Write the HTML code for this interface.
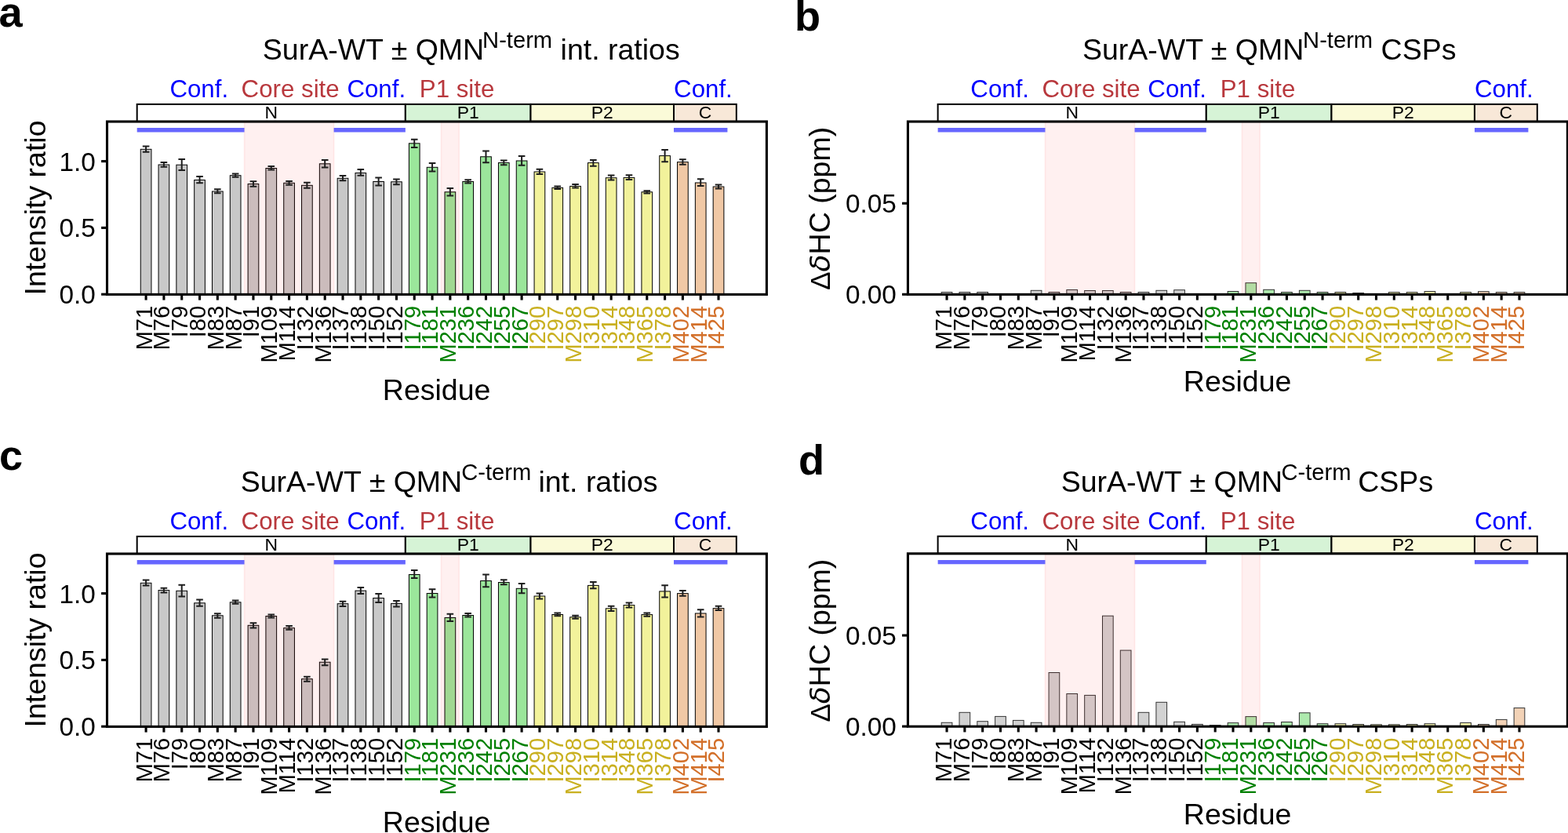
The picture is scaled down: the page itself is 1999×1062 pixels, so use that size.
<!DOCTYPE html>
<html><head><meta charset="utf-8"><title>SurA-WT QMN intensity ratios and CSPs</title>
<style>html,body{margin:0;padding:0;background:#fff;overflow:hidden}svg{display:block}
text{font-family:"Liberation Sans", Arial, Helvetica, sans-serif}</style></head>
<body><svg width="1999" height="1062" viewBox="0 0 1999 1062">
<rect width="1999" height="1062" fill="#fff"/>
<g stroke="#000" stroke-width="1">
<rect x="179.25" y="190.3" width="13.7" height="184.9" fill="#c8c8c8"/>
<rect x="202.06" y="210" width="13.7" height="165.2" fill="#c8c8c8"/>
<rect x="224.87" y="210.2" width="13.7" height="165" fill="#c8c8c8"/>
<rect x="247.68" y="229.5" width="13.7" height="145.7" fill="#c8c8c8"/>
<rect x="270.49" y="244" width="13.7" height="131.2" fill="#c8c8c8"/>
<rect x="293.3" y="223.7" width="13.7" height="151.5" fill="#c8c8c8"/>
<rect x="316.11" y="234.5" width="13.7" height="140.7" fill="#c8c8c8"/>
<rect x="338.92" y="214.5" width="13.7" height="160.7" fill="#c8c8c8"/>
<rect x="361.73" y="233.3" width="13.7" height="141.9" fill="#c8c8c8"/>
<rect x="384.54" y="236.3" width="13.7" height="138.9" fill="#c8c8c8"/>
<rect x="407.35" y="208.8" width="13.7" height="166.4" fill="#c8c8c8"/>
<rect x="430.16" y="227.3" width="13.7" height="147.9" fill="#c8c8c8"/>
<rect x="452.97" y="220.5" width="13.7" height="154.7" fill="#c8c8c8"/>
<rect x="475.78" y="231.5" width="13.7" height="143.7" fill="#c8c8c8"/>
<rect x="498.59" y="231.8" width="13.7" height="143.4" fill="#c8c8c8"/>
<rect x="521.4" y="182.8" width="13.7" height="192.4" fill="#9be69b"/>
<rect x="544.21" y="213.3" width="13.7" height="161.9" fill="#9be69b"/>
<rect x="567.02" y="244.8" width="13.7" height="130.4" fill="#9be69b"/>
<rect x="589.83" y="231.5" width="13.7" height="143.7" fill="#9be69b"/>
<rect x="612.64" y="199.8" width="13.7" height="175.4" fill="#9be69b"/>
<rect x="635.45" y="207.5" width="13.7" height="167.7" fill="#9be69b"/>
<rect x="658.26" y="205" width="13.7" height="170.2" fill="#9be69b"/>
<rect x="681.07" y="219" width="13.7" height="156.2" fill="#f2f29b"/>
<rect x="703.88" y="239.3" width="13.7" height="135.9" fill="#f2f29b"/>
<rect x="726.69" y="237.4" width="13.7" height="137.8" fill="#f2f29b"/>
<rect x="749.5" y="207.6" width="13.7" height="167.6" fill="#f2f29b"/>
<rect x="772.31" y="226.7" width="13.7" height="148.5" fill="#f2f29b"/>
<rect x="795.12" y="226.5" width="13.7" height="148.7" fill="#f2f29b"/>
<rect x="817.93" y="244.8" width="13.7" height="130.4" fill="#f2f29b"/>
<rect x="840.74" y="198.6" width="13.7" height="176.6" fill="#f2f29b"/>
<rect x="863.55" y="206.6" width="13.7" height="168.6" fill="#f0c8a5"/>
<rect x="886.36" y="233" width="13.7" height="142.2" fill="#f0c8a5"/>
<rect x="909.17" y="238" width="13.7" height="137.2" fill="#f0c8a5"/>
</g>
<g fill="#ff0000" fill-opacity="0.06">
<rect x="311.56" y="155" width="114.05" height="220.4"/>
<rect x="562.46" y="155" width="22.81" height="220.4"/>
</g>
<g stroke="#ff0000" stroke-opacity="0.07" stroke-width="1.6">
<line x1="311.56" y1="155" x2="311.56" y2="375.4"/>
<line x1="425.61" y1="155" x2="425.61" y2="375.4"/>
<line x1="562.46" y1="155" x2="562.46" y2="375.4"/>
<line x1="585.27" y1="155" x2="585.27" y2="375.4"/>
</g>
<g stroke="#6666ff" stroke-width="5.4">
<line x1="174.69" y1="165.8" x2="311.56" y2="165.8"/>
<line x1="425.61" y1="165.8" x2="516.85" y2="165.8"/>
<line x1="859" y1="165.8" x2="927.42" y2="165.8"/>
</g>
<g stroke="#1e1e1e" stroke-width="2" fill="none">
<path d="M186.1 186.5V193.7M181.8 186.5H190.4M181.8 193.7H190.4"/>
<path d="M208.91 207V212.8M204.61 207H213.21M204.61 212.8H213.21"/>
<path d="M231.72 202.9V217.1M227.42 202.9H236.02M227.42 217.1H236.02"/>
<path d="M254.53 225V233.2M250.23 225H258.83M250.23 233.2H258.83"/>
<path d="M277.34 241.2V246.2M273.04 241.2H281.64M273.04 246.2H281.64"/>
<path d="M300.15 221.5V225.7M295.85 221.5H304.45M295.85 225.7H304.45"/>
<path d="M322.96 231.2V237.8M318.66 231.2H327.26M318.66 237.8H327.26"/>
<path d="M345.77 212V216.5M341.47 212H350.07M341.47 216.5H350.07"/>
<path d="M368.58 231V235.8M364.28 231H372.88M364.28 235.8H372.88"/>
<path d="M391.39 232.8V239.8M387.09 232.8H395.69M387.09 239.8H395.69"/>
<path d="M414.2 204V213.5M409.9 204H418.5M409.9 213.5H418.5"/>
<path d="M437.01 224V230.3M432.71 224H441.31M432.71 230.3H441.31"/>
<path d="M459.82 216V223.8M455.52 216H464.12M455.52 223.8H464.12"/>
<path d="M482.63 226.5V236.5M478.33 226.5H486.93M478.33 236.5H486.93"/>
<path d="M505.44 228.5V235.2M501.14 228.5H509.74M501.14 235.2H509.74"/>
<path d="M528.25 177.8V188M523.95 177.8H532.55M523.95 188H532.55"/>
<path d="M551.06 208V218.5M546.76 208H555.36M546.76 218.5H555.36"/>
<path d="M573.87 240V249.5M569.57 240H578.17M569.57 249.5H578.17"/>
<path d="M596.68 229.2V233.5M592.38 229.2H600.98M592.38 233.5H600.98"/>
<path d="M619.49 192.5V207.2M615.19 192.5H623.79M615.19 207.2H623.79"/>
<path d="M642.3 204.5V210.2M638 204.5H646.6M638 210.2H646.6"/>
<path d="M665.11 199V210.8M660.81 199H669.41M660.81 210.8H669.41"/>
<path d="M687.92 215.8V222M683.62 215.8H692.22M683.62 222H692.22"/>
<path d="M710.73 237.5V241M706.43 237.5H715.03M706.43 241H715.03"/>
<path d="M733.54 234.9V239.6M729.24 234.9H737.84M729.24 239.6H737.84"/>
<path d="M756.35 203.9V211.8M752.05 203.9H760.65M752.05 211.8H760.65"/>
<path d="M779.16 223.6V229.4M774.86 223.6H783.46M774.86 229.4H783.46"/>
<path d="M801.97 223.2V228.9M797.67 223.2H806.27M797.67 228.9H806.27"/>
<path d="M824.78 243.2V246.5M820.48 243.2H829.08M820.48 246.5H829.08"/>
<path d="M847.59 190.9V206.3M843.29 190.9H851.89M843.29 206.3H851.89"/>
<path d="M870.4 203.3V209.8M866.1 203.3H874.7M866.1 209.8H874.7"/>
<path d="M893.21 228.3V237.1M888.91 228.3H897.51M888.91 237.1H897.51"/>
<path d="M916.02 235.5V240.4M911.72 235.5H920.32M911.72 240.4H920.32"/>
</g>
<g stroke="#000" stroke-width="2">
<rect x="174.69" y="132.9" width="342.15" height="22.1" fill="#ffffff"/>
<rect x="516.85" y="132.9" width="159.67" height="22.1" fill="#d6f3d6"/>
<rect x="676.51" y="132.9" width="182.48" height="22.1" fill="#fafad8"/>
<rect x="859" y="132.9" width="79.83" height="22.1" fill="#f8e8d8"/>
</g>
<g font-size="22.9" text-anchor="middle">
<text x="345.77" y="151">N</text>
<text x="596.68" y="151">P1</text>
<text x="767.75" y="151">P2</text>
<text x="898.91" y="151">C</text>
</g>
<g font-size="31.25">
<text x="216.4" y="124" fill="#0000ff">Conf.</text>
<text x="307.6" y="124" fill="#b8383d">Core site</text>
<text x="442.4" y="124" fill="#0000ff">Conf.</text>
<text x="534.8" y="124" fill="#b8383d">P1 site</text>
<text x="859.1" y="124" fill="#0000ff">Conf.</text>
</g>
<rect x="136.5" y="155" width="840.9" height="220.4" fill="none" stroke="#000" stroke-width="3.1"/>
<g stroke="#000" stroke-width="3.1">
<line x1="186.1" y1="375.4" x2="186.1" y2="382.6"/>
<line x1="208.91" y1="375.4" x2="208.91" y2="382.6"/>
<line x1="231.72" y1="375.4" x2="231.72" y2="382.6"/>
<line x1="254.53" y1="375.4" x2="254.53" y2="382.6"/>
<line x1="277.34" y1="375.4" x2="277.34" y2="382.6"/>
<line x1="300.15" y1="375.4" x2="300.15" y2="382.6"/>
<line x1="322.96" y1="375.4" x2="322.96" y2="382.6"/>
<line x1="345.77" y1="375.4" x2="345.77" y2="382.6"/>
<line x1="368.58" y1="375.4" x2="368.58" y2="382.6"/>
<line x1="391.39" y1="375.4" x2="391.39" y2="382.6"/>
<line x1="414.2" y1="375.4" x2="414.2" y2="382.6"/>
<line x1="437.01" y1="375.4" x2="437.01" y2="382.6"/>
<line x1="459.82" y1="375.4" x2="459.82" y2="382.6"/>
<line x1="482.63" y1="375.4" x2="482.63" y2="382.6"/>
<line x1="505.44" y1="375.4" x2="505.44" y2="382.6"/>
<line x1="528.25" y1="375.4" x2="528.25" y2="382.6"/>
<line x1="551.06" y1="375.4" x2="551.06" y2="382.6"/>
<line x1="573.87" y1="375.4" x2="573.87" y2="382.6"/>
<line x1="596.68" y1="375.4" x2="596.68" y2="382.6"/>
<line x1="619.49" y1="375.4" x2="619.49" y2="382.6"/>
<line x1="642.3" y1="375.4" x2="642.3" y2="382.6"/>
<line x1="665.11" y1="375.4" x2="665.11" y2="382.6"/>
<line x1="687.92" y1="375.4" x2="687.92" y2="382.6"/>
<line x1="710.73" y1="375.4" x2="710.73" y2="382.6"/>
<line x1="733.54" y1="375.4" x2="733.54" y2="382.6"/>
<line x1="756.35" y1="375.4" x2="756.35" y2="382.6"/>
<line x1="779.16" y1="375.4" x2="779.16" y2="382.6"/>
<line x1="801.97" y1="375.4" x2="801.97" y2="382.6"/>
<line x1="824.78" y1="375.4" x2="824.78" y2="382.6"/>
<line x1="847.59" y1="375.4" x2="847.59" y2="382.6"/>
<line x1="870.4" y1="375.4" x2="870.4" y2="382.6"/>
<line x1="893.21" y1="375.4" x2="893.21" y2="382.6"/>
<line x1="916.02" y1="375.4" x2="916.02" y2="382.6"/>
<line x1="129.1" y1="205.6" x2="136.5" y2="205.6"/>
<line x1="129.1" y1="290.4" x2="136.5" y2="290.4"/>
<line x1="129.1" y1="375.2" x2="136.5" y2="375.2"/>
</g>
<g font-size="33.33" text-anchor="end">
<text x="121.9" y="217.5">1.0</text>
<text x="121.9" y="302.3">0.5</text>
<text x="121.9" y="387.1">0.0</text>
</g>
<g font-size="29.17" text-anchor="end">
<text transform="translate(193.5 389.8) rotate(-90)" fill="#000000">M71</text>
<text transform="translate(216.31 389.8) rotate(-90)" fill="#000000">M76</text>
<text transform="translate(239.12 389.8) rotate(-90)" fill="#000000">I79</text>
<text transform="translate(261.93 389.8) rotate(-90)" fill="#000000">I80</text>
<text transform="translate(284.74 389.8) rotate(-90)" fill="#000000">M83</text>
<text transform="translate(307.55 389.8) rotate(-90)" fill="#000000">M87</text>
<text transform="translate(330.36 389.8) rotate(-90)" fill="#000000">I91</text>
<text transform="translate(353.17 389.8) rotate(-90)" fill="#000000">M109</text>
<text transform="translate(375.98 389.8) rotate(-90)" fill="#000000">M114</text>
<text transform="translate(398.79 389.8) rotate(-90)" fill="#000000">I132</text>
<text transform="translate(421.6 389.8) rotate(-90)" fill="#000000">M136</text>
<text transform="translate(444.41 389.8) rotate(-90)" fill="#000000">I137</text>
<text transform="translate(467.22 389.8) rotate(-90)" fill="#000000">I138</text>
<text transform="translate(490.03 389.8) rotate(-90)" fill="#000000">I150</text>
<text transform="translate(512.84 389.8) rotate(-90)" fill="#000000">I152</text>
<text transform="translate(535.65 389.8) rotate(-90)" fill="#008000">I179</text>
<text transform="translate(558.46 389.8) rotate(-90)" fill="#008000">I181</text>
<text transform="translate(581.27 389.8) rotate(-90)" fill="#008000">M231</text>
<text transform="translate(604.08 389.8) rotate(-90)" fill="#008000">I236</text>
<text transform="translate(626.89 389.8) rotate(-90)" fill="#008000">I242</text>
<text transform="translate(649.7 389.8) rotate(-90)" fill="#008000">I255</text>
<text transform="translate(672.51 389.8) rotate(-90)" fill="#008000">I267</text>
<text transform="translate(695.32 389.8) rotate(-90)" fill="#c9b020">I290</text>
<text transform="translate(718.13 389.8) rotate(-90)" fill="#c9b020">I297</text>
<text transform="translate(740.94 389.8) rotate(-90)" fill="#c9b020">M298</text>
<text transform="translate(763.75 389.8) rotate(-90)" fill="#c9b020">I310</text>
<text transform="translate(786.56 389.8) rotate(-90)" fill="#c9b020">I314</text>
<text transform="translate(809.37 389.8) rotate(-90)" fill="#c9b020">I348</text>
<text transform="translate(832.18 389.8) rotate(-90)" fill="#c9b020">M365</text>
<text transform="translate(854.99 389.8) rotate(-90)" fill="#c9b020">I378</text>
<text transform="translate(877.8 389.8) rotate(-90)" fill="#d3702a">M402</text>
<text transform="translate(900.61 389.8) rotate(-90)" fill="#d3702a">M414</text>
<text transform="translate(923.42 389.8) rotate(-90)" fill="#d3702a">I425</text>
</g>
<text transform="translate(58 265) rotate(-90)" font-size="37.5" text-anchor="middle">Intensity ratio</text>
<text x="556.65" y="509.8" font-size="37.5" text-anchor="middle">Residue</text>
<text y="75.8" font-size="37.5"><tspan x="334.8">SurA-WT &#177; QMN</tspan><tspan font-size="29.17" dx="-2.1" dy="-15">N-term</tspan><tspan dx="0" dy="15"> int. ratios</tspan></text>
<text x="-1.5" y="33.75" font-size="54.17" font-weight="bold">a</text>
<g stroke="#000" stroke-width="1" opacity="0.8">
<rect x="1200.2" y="372.5" width="13.7" height="2.8" fill="#c8c8c8"/>
<rect x="1223.01" y="372.5" width="13.7" height="2.8" fill="#c8c8c8"/>
<rect x="1245.82" y="372.5" width="13.7" height="2.8" fill="#c8c8c8"/>
<rect x="1314.25" y="370.3" width="13.7" height="5" fill="#c8c8c8"/>
<rect x="1337.06" y="372.5" width="13.7" height="2.8" fill="#c8c8c8"/>
<rect x="1359.87" y="369.5" width="13.7" height="5.8" fill="#c8c8c8"/>
<rect x="1382.68" y="370.5" width="13.7" height="4.8" fill="#c8c8c8"/>
<rect x="1405.49" y="370.5" width="13.7" height="4.8" fill="#c8c8c8"/>
<rect x="1428.3" y="372.5" width="13.7" height="2.8" fill="#c8c8c8"/>
<rect x="1451.11" y="372.5" width="13.7" height="2.8" fill="#c8c8c8"/>
<rect x="1473.92" y="370.3" width="13.7" height="5" fill="#c8c8c8"/>
<rect x="1496.73" y="369.7" width="13.7" height="5.6" fill="#c8c8c8"/>
<rect x="1565.16" y="371.5" width="13.7" height="3.8" fill="#9be69b"/>
<rect x="1587.97" y="360.7" width="13.7" height="14.6" fill="#9be69b"/>
<rect x="1610.78" y="369.3" width="13.7" height="6" fill="#9be69b"/>
<rect x="1633.59" y="372.5" width="13.7" height="2.8" fill="#9be69b"/>
<rect x="1656.4" y="370.3" width="13.7" height="5" fill="#9be69b"/>
<rect x="1679.21" y="372.5" width="13.7" height="2.8" fill="#9be69b"/>
<rect x="1702.02" y="372.5" width="13.7" height="2.8" fill="#f2f29b"/>
<rect x="1724.83" y="373.5" width="13.7" height="1.8" fill="#f2f29b"/>
<rect x="1770.45" y="372.6" width="13.7" height="2.7" fill="#f2f29b"/>
<rect x="1793.26" y="372.6" width="13.7" height="2.7" fill="#f2f29b"/>
<rect x="1816.07" y="371.5" width="13.7" height="3.8" fill="#f2f29b"/>
<rect x="1861.69" y="372.6" width="13.7" height="2.7" fill="#f2f29b"/>
<rect x="1884.5" y="371.7" width="13.7" height="3.6" fill="#f0c8a5"/>
<rect x="1907.31" y="372.6" width="13.7" height="2.7" fill="#f0c8a5"/>
<rect x="1930.12" y="372.6" width="13.7" height="2.7" fill="#f0c8a5"/>
</g>
<g fill="#ff0000" fill-opacity="0.06">
<rect x="1332.5" y="155" width="114.05" height="220.4"/>
<rect x="1583.41" y="155" width="22.81" height="220.4"/>
</g>
<g stroke="#ff0000" stroke-opacity="0.07" stroke-width="1.6">
<line x1="1332.5" y1="155" x2="1332.5" y2="375.4"/>
<line x1="1446.55" y1="155" x2="1446.55" y2="375.4"/>
<line x1="1583.41" y1="155" x2="1583.41" y2="375.4"/>
<line x1="1606.22" y1="155" x2="1606.22" y2="375.4"/>
</g>
<g stroke="#6666ff" stroke-width="5.4">
<line x1="1195.64" y1="165.8" x2="1332.5" y2="165.8"/>
<line x1="1446.55" y1="165.8" x2="1537.8" y2="165.8"/>
<line x1="1879.94" y1="165.8" x2="1948.38" y2="165.8"/>
</g>
<g stroke="#000" stroke-width="2">
<rect x="1195.64" y="132.9" width="342.15" height="22.1" fill="#ffffff"/>
<rect x="1537.8" y="132.9" width="159.67" height="22.1" fill="#d6f3d6"/>
<rect x="1697.46" y="132.9" width="182.48" height="22.1" fill="#fafad8"/>
<rect x="1879.94" y="132.9" width="79.83" height="22.1" fill="#f8e8d8"/>
</g>
<g font-size="22.9" text-anchor="middle">
<text x="1366.72" y="151">N</text>
<text x="1617.63" y="151">P1</text>
<text x="1788.7" y="151">P2</text>
<text x="1919.86" y="151">C</text>
</g>
<g font-size="31.25">
<text x="1237.35" y="124" fill="#0000ff">Conf.</text>
<text x="1328.55" y="124" fill="#b8383d">Core site</text>
<text x="1463.35" y="124" fill="#0000ff">Conf.</text>
<text x="1555.75" y="124" fill="#b8383d">P1 site</text>
<text x="1880.05" y="124" fill="#0000ff">Conf.</text>
</g>
<rect x="1157.45" y="155" width="840.9" height="220.4" fill="none" stroke="#000" stroke-width="3.1"/>
<g stroke="#000" stroke-width="3.1">
<line x1="1207.05" y1="375.4" x2="1207.05" y2="382.6"/>
<line x1="1229.86" y1="375.4" x2="1229.86" y2="382.6"/>
<line x1="1252.67" y1="375.4" x2="1252.67" y2="382.6"/>
<line x1="1275.48" y1="375.4" x2="1275.48" y2="382.6"/>
<line x1="1298.29" y1="375.4" x2="1298.29" y2="382.6"/>
<line x1="1321.1" y1="375.4" x2="1321.1" y2="382.6"/>
<line x1="1343.91" y1="375.4" x2="1343.91" y2="382.6"/>
<line x1="1366.72" y1="375.4" x2="1366.72" y2="382.6"/>
<line x1="1389.53" y1="375.4" x2="1389.53" y2="382.6"/>
<line x1="1412.34" y1="375.4" x2="1412.34" y2="382.6"/>
<line x1="1435.15" y1="375.4" x2="1435.15" y2="382.6"/>
<line x1="1457.96" y1="375.4" x2="1457.96" y2="382.6"/>
<line x1="1480.77" y1="375.4" x2="1480.77" y2="382.6"/>
<line x1="1503.58" y1="375.4" x2="1503.58" y2="382.6"/>
<line x1="1526.39" y1="375.4" x2="1526.39" y2="382.6"/>
<line x1="1549.2" y1="375.4" x2="1549.2" y2="382.6"/>
<line x1="1572.01" y1="375.4" x2="1572.01" y2="382.6"/>
<line x1="1594.82" y1="375.4" x2="1594.82" y2="382.6"/>
<line x1="1617.63" y1="375.4" x2="1617.63" y2="382.6"/>
<line x1="1640.44" y1="375.4" x2="1640.44" y2="382.6"/>
<line x1="1663.25" y1="375.4" x2="1663.25" y2="382.6"/>
<line x1="1686.06" y1="375.4" x2="1686.06" y2="382.6"/>
<line x1="1708.87" y1="375.4" x2="1708.87" y2="382.6"/>
<line x1="1731.68" y1="375.4" x2="1731.68" y2="382.6"/>
<line x1="1754.49" y1="375.4" x2="1754.49" y2="382.6"/>
<line x1="1777.3" y1="375.4" x2="1777.3" y2="382.6"/>
<line x1="1800.11" y1="375.4" x2="1800.11" y2="382.6"/>
<line x1="1822.92" y1="375.4" x2="1822.92" y2="382.6"/>
<line x1="1845.73" y1="375.4" x2="1845.73" y2="382.6"/>
<line x1="1868.54" y1="375.4" x2="1868.54" y2="382.6"/>
<line x1="1891.35" y1="375.4" x2="1891.35" y2="382.6"/>
<line x1="1914.16" y1="375.4" x2="1914.16" y2="382.6"/>
<line x1="1936.97" y1="375.4" x2="1936.97" y2="382.6"/>
<line x1="1150.05" y1="259.25" x2="1157.45" y2="259.25"/>
<line x1="1150.05" y1="375.3" x2="1157.45" y2="375.3"/>
</g>
<g font-size="33.33" text-anchor="end">
<text x="1142.85" y="271.15">0.05</text>
<text x="1142.85" y="387.2">0.00</text>
</g>
<g font-size="29.17" text-anchor="end">
<text transform="translate(1213.45 389.8) rotate(-90)" fill="#000000">M71</text>
<text transform="translate(1236.26 389.8) rotate(-90)" fill="#000000">M76</text>
<text transform="translate(1259.07 389.8) rotate(-90)" fill="#000000">I79</text>
<text transform="translate(1281.88 389.8) rotate(-90)" fill="#000000">I80</text>
<text transform="translate(1304.69 389.8) rotate(-90)" fill="#000000">M83</text>
<text transform="translate(1327.5 389.8) rotate(-90)" fill="#000000">M87</text>
<text transform="translate(1350.31 389.8) rotate(-90)" fill="#000000">I91</text>
<text transform="translate(1373.12 389.8) rotate(-90)" fill="#000000">M109</text>
<text transform="translate(1395.93 389.8) rotate(-90)" fill="#000000">M114</text>
<text transform="translate(1418.74 389.8) rotate(-90)" fill="#000000">I132</text>
<text transform="translate(1441.55 389.8) rotate(-90)" fill="#000000">M136</text>
<text transform="translate(1464.36 389.8) rotate(-90)" fill="#000000">I137</text>
<text transform="translate(1487.17 389.8) rotate(-90)" fill="#000000">I138</text>
<text transform="translate(1509.98 389.8) rotate(-90)" fill="#000000">I150</text>
<text transform="translate(1532.79 389.8) rotate(-90)" fill="#000000">I152</text>
<text transform="translate(1555.6 389.8) rotate(-90)" fill="#008000">I179</text>
<text transform="translate(1578.41 389.8) rotate(-90)" fill="#008000">I181</text>
<text transform="translate(1601.22 389.8) rotate(-90)" fill="#008000">M231</text>
<text transform="translate(1624.03 389.8) rotate(-90)" fill="#008000">I236</text>
<text transform="translate(1646.84 389.8) rotate(-90)" fill="#008000">I242</text>
<text transform="translate(1669.65 389.8) rotate(-90)" fill="#008000">I255</text>
<text transform="translate(1692.46 389.8) rotate(-90)" fill="#008000">I267</text>
<text transform="translate(1715.27 389.8) rotate(-90)" fill="#c9b020">I290</text>
<text transform="translate(1738.08 389.8) rotate(-90)" fill="#c9b020">I297</text>
<text transform="translate(1760.89 389.8) rotate(-90)" fill="#c9b020">M298</text>
<text transform="translate(1783.7 389.8) rotate(-90)" fill="#c9b020">I310</text>
<text transform="translate(1806.51 389.8) rotate(-90)" fill="#c9b020">I314</text>
<text transform="translate(1829.32 389.8) rotate(-90)" fill="#c9b020">I348</text>
<text transform="translate(1852.13 389.8) rotate(-90)" fill="#c9b020">M365</text>
<text transform="translate(1874.94 389.8) rotate(-90)" fill="#c9b020">I378</text>
<text transform="translate(1897.75 389.8) rotate(-90)" fill="#d3702a">M402</text>
<text transform="translate(1920.56 389.8) rotate(-90)" fill="#d3702a">M414</text>
<text transform="translate(1943.37 389.8) rotate(-90)" fill="#d3702a">I425</text>
</g>
<text transform="translate(1058.3 369.8) rotate(-90)" font-size="37.5"><tspan font-size="35">&#916;</tspan><tspan font-family="DejaVu Sans" font-style="oblique" font-size="36" dx="0">&#948;</tspan><tspan dx="0">HC (ppm)</tspan></text>
<text x="1577.6" y="499" font-size="37.5" text-anchor="middle">Residue</text>
<text y="76" font-size="37.5"><tspan x="1379.9">SurA-WT &#177; QMN</tspan><tspan font-size="29.17" dx="-1.2" dy="-15">N-term</tspan><tspan dx="0" dy="15"> CSPs</tspan></text>
<text x="1013" y="38.8" font-size="54.17" font-weight="bold">b</text>
<g stroke="#000" stroke-width="1">
<rect x="179.25" y="743.3" width="13.7" height="182.9" fill="#c8c8c8"/>
<rect x="202.06" y="752.5" width="13.7" height="173.7" fill="#c8c8c8"/>
<rect x="224.87" y="753.3" width="13.7" height="172.9" fill="#c8c8c8"/>
<rect x="247.68" y="768.8" width="13.7" height="157.4" fill="#c8c8c8"/>
<rect x="270.49" y="784.8" width="13.7" height="141.4" fill="#c8c8c8"/>
<rect x="293.3" y="767.8" width="13.7" height="158.4" fill="#c8c8c8"/>
<rect x="316.11" y="797.3" width="13.7" height="128.9" fill="#c8c8c8"/>
<rect x="338.92" y="785.5" width="13.7" height="140.7" fill="#c8c8c8"/>
<rect x="361.73" y="800.6" width="13.7" height="125.6" fill="#c8c8c8"/>
<rect x="384.54" y="865.6" width="13.7" height="60.6" fill="#c8c8c8"/>
<rect x="407.35" y="844.2" width="13.7" height="82" fill="#c8c8c8"/>
<rect x="430.16" y="769.7" width="13.7" height="156.5" fill="#c8c8c8"/>
<rect x="452.97" y="753.1" width="13.7" height="173.1" fill="#c8c8c8"/>
<rect x="475.78" y="762.5" width="13.7" height="163.7" fill="#c8c8c8"/>
<rect x="498.59" y="769.4" width="13.7" height="156.8" fill="#c8c8c8"/>
<rect x="521.4" y="732.5" width="13.7" height="193.7" fill="#9be69b"/>
<rect x="544.21" y="756.5" width="13.7" height="169.7" fill="#9be69b"/>
<rect x="567.02" y="787.5" width="13.7" height="138.7" fill="#9be69b"/>
<rect x="589.83" y="784.5" width="13.7" height="141.7" fill="#9be69b"/>
<rect x="612.64" y="740.5" width="13.7" height="185.7" fill="#9be69b"/>
<rect x="635.45" y="742.5" width="13.7" height="183.7" fill="#9be69b"/>
<rect x="658.26" y="750.3" width="13.7" height="175.9" fill="#9be69b"/>
<rect x="681.07" y="760" width="13.7" height="166.2" fill="#f2f29b"/>
<rect x="703.88" y="783.5" width="13.7" height="142.7" fill="#f2f29b"/>
<rect x="726.69" y="786.8" width="13.7" height="139.4" fill="#f2f29b"/>
<rect x="749.5" y="746.4" width="13.7" height="179.8" fill="#f2f29b"/>
<rect x="772.31" y="775.8" width="13.7" height="150.4" fill="#f2f29b"/>
<rect x="795.12" y="771.5" width="13.7" height="154.7" fill="#f2f29b"/>
<rect x="817.93" y="783.6" width="13.7" height="142.6" fill="#f2f29b"/>
<rect x="840.74" y="753.9" width="13.7" height="172.3" fill="#f2f29b"/>
<rect x="863.55" y="756.6" width="13.7" height="169.6" fill="#f0c8a5"/>
<rect x="886.36" y="782" width="13.7" height="144.2" fill="#f0c8a5"/>
<rect x="909.17" y="775.6" width="13.7" height="150.6" fill="#f0c8a5"/>
</g>
<g fill="#ff0000" fill-opacity="0.06">
<rect x="311.56" y="706" width="114.05" height="220.4"/>
<rect x="562.46" y="706" width="22.81" height="220.4"/>
</g>
<g stroke="#ff0000" stroke-opacity="0.07" stroke-width="1.6">
<line x1="311.56" y1="706" x2="311.56" y2="926.4"/>
<line x1="425.61" y1="706" x2="425.61" y2="926.4"/>
<line x1="562.46" y1="706" x2="562.46" y2="926.4"/>
<line x1="585.27" y1="706" x2="585.27" y2="926.4"/>
</g>
<g stroke="#6666ff" stroke-width="5.4">
<line x1="174.69" y1="716.8" x2="311.56" y2="716.8"/>
<line x1="425.61" y1="716.8" x2="516.85" y2="716.8"/>
<line x1="859" y1="716.8" x2="927.42" y2="716.8"/>
</g>
<g stroke="#1e1e1e" stroke-width="2" fill="none">
<path d="M186.1 739.5V746.5M181.8 739.5H190.4M181.8 746.5H190.4"/>
<path d="M208.91 749.8V755.5M204.61 749.8H213.21M204.61 755.5H213.21"/>
<path d="M231.72 745.8V760.5M227.42 745.8H236.02M227.42 760.5H236.02"/>
<path d="M254.53 764.5V772.8M250.23 764.5H258.83M250.23 772.8H258.83"/>
<path d="M277.34 782.2V787.8M273.04 782.2H281.64M273.04 787.8H281.64"/>
<path d="M300.15 765.5V769.7M295.85 765.5H304.45M295.85 769.7H304.45"/>
<path d="M322.96 794.2V800.5M318.66 794.2H327.26M318.66 800.5H327.26"/>
<path d="M345.77 783.5V787.5M341.47 783.5H350.07M341.47 787.5H350.07"/>
<path d="M368.58 797.9V802.8M364.28 797.9H372.88M364.28 802.8H372.88"/>
<path d="M391.39 862.8V868.8M387.09 862.8H395.69M387.09 868.8H395.69"/>
<path d="M414.2 840.5V848.3M409.9 840.5H418.5M409.9 848.3H418.5"/>
<path d="M437.01 766.7V773M432.71 766.7H441.31M432.71 773H441.31"/>
<path d="M459.82 748.9V756.9M455.52 748.9H464.12M455.52 756.9H464.12"/>
<path d="M482.63 756.9V767.9M478.33 756.9H486.93M478.33 767.9H486.93"/>
<path d="M505.44 765.9V773.5M501.14 765.9H509.74M501.14 773.5H509.74"/>
<path d="M528.25 727V737M523.95 727H532.55M523.95 737H532.55"/>
<path d="M551.06 751.2V761.5M546.76 751.2H555.36M546.76 761.5H555.36"/>
<path d="M573.87 782.8V792M569.57 782.8H578.17M569.57 792H578.17"/>
<path d="M596.68 782V786.5M592.38 782H600.98M592.38 786.5H600.98"/>
<path d="M619.49 732.5V748.3M615.19 732.5H623.79M615.19 748.3H623.79"/>
<path d="M642.3 739.2V745.2M638 739.2H646.6M638 745.2H646.6"/>
<path d="M665.11 744V756.3M660.81 744H669.41M660.81 756.3H669.41"/>
<path d="M687.92 756.5V763.5M683.62 756.5H692.22M683.62 763.5H692.22"/>
<path d="M710.73 781.5V785.2M706.43 781.5H715.03M706.43 785.2H715.03"/>
<path d="M733.54 784.7V788.8M729.24 784.7H737.84M729.24 788.8H737.84"/>
<path d="M756.35 742V750.3M752.05 742H760.65M752.05 750.3H760.65"/>
<path d="M779.16 772.8V778.9M774.86 772.8H783.46M774.86 778.9H783.46"/>
<path d="M801.97 768.4V774.5M797.67 768.4H806.27M797.67 774.5H806.27"/>
<path d="M824.78 781.4V785.7M820.48 781.4H829.08M820.48 785.7H829.08"/>
<path d="M847.59 746.2V761.6M843.29 746.2H851.89M843.29 761.6H851.89"/>
<path d="M870.4 753V759.8M866.1 753H874.7M866.1 759.8H874.7"/>
<path d="M893.21 777.2V786.4M888.91 777.2H897.51M888.91 786.4H897.51"/>
<path d="M916.02 772.8V778.1M911.72 772.8H920.32M911.72 778.1H920.32"/>
</g>
<g stroke="#000" stroke-width="2">
<rect x="174.69" y="683.9" width="342.15" height="22.1" fill="#ffffff"/>
<rect x="516.85" y="683.9" width="159.67" height="22.1" fill="#d6f3d6"/>
<rect x="676.51" y="683.9" width="182.48" height="22.1" fill="#fafad8"/>
<rect x="859" y="683.9" width="79.83" height="22.1" fill="#f8e8d8"/>
</g>
<g font-size="22.9" text-anchor="middle">
<text x="345.77" y="702">N</text>
<text x="596.68" y="702">P1</text>
<text x="767.75" y="702">P2</text>
<text x="898.91" y="702">C</text>
</g>
<g font-size="31.25">
<text x="216.4" y="675" fill="#0000ff">Conf.</text>
<text x="307.6" y="675" fill="#b8383d">Core site</text>
<text x="442.4" y="675" fill="#0000ff">Conf.</text>
<text x="534.8" y="675" fill="#b8383d">P1 site</text>
<text x="859.1" y="675" fill="#0000ff">Conf.</text>
</g>
<rect x="136.5" y="706" width="840.9" height="220.4" fill="none" stroke="#000" stroke-width="3.1"/>
<g stroke="#000" stroke-width="3.1">
<line x1="186.1" y1="926.4" x2="186.1" y2="933.6"/>
<line x1="208.91" y1="926.4" x2="208.91" y2="933.6"/>
<line x1="231.72" y1="926.4" x2="231.72" y2="933.6"/>
<line x1="254.53" y1="926.4" x2="254.53" y2="933.6"/>
<line x1="277.34" y1="926.4" x2="277.34" y2="933.6"/>
<line x1="300.15" y1="926.4" x2="300.15" y2="933.6"/>
<line x1="322.96" y1="926.4" x2="322.96" y2="933.6"/>
<line x1="345.77" y1="926.4" x2="345.77" y2="933.6"/>
<line x1="368.58" y1="926.4" x2="368.58" y2="933.6"/>
<line x1="391.39" y1="926.4" x2="391.39" y2="933.6"/>
<line x1="414.2" y1="926.4" x2="414.2" y2="933.6"/>
<line x1="437.01" y1="926.4" x2="437.01" y2="933.6"/>
<line x1="459.82" y1="926.4" x2="459.82" y2="933.6"/>
<line x1="482.63" y1="926.4" x2="482.63" y2="933.6"/>
<line x1="505.44" y1="926.4" x2="505.44" y2="933.6"/>
<line x1="528.25" y1="926.4" x2="528.25" y2="933.6"/>
<line x1="551.06" y1="926.4" x2="551.06" y2="933.6"/>
<line x1="573.87" y1="926.4" x2="573.87" y2="933.6"/>
<line x1="596.68" y1="926.4" x2="596.68" y2="933.6"/>
<line x1="619.49" y1="926.4" x2="619.49" y2="933.6"/>
<line x1="642.3" y1="926.4" x2="642.3" y2="933.6"/>
<line x1="665.11" y1="926.4" x2="665.11" y2="933.6"/>
<line x1="687.92" y1="926.4" x2="687.92" y2="933.6"/>
<line x1="710.73" y1="926.4" x2="710.73" y2="933.6"/>
<line x1="733.54" y1="926.4" x2="733.54" y2="933.6"/>
<line x1="756.35" y1="926.4" x2="756.35" y2="933.6"/>
<line x1="779.16" y1="926.4" x2="779.16" y2="933.6"/>
<line x1="801.97" y1="926.4" x2="801.97" y2="933.6"/>
<line x1="824.78" y1="926.4" x2="824.78" y2="933.6"/>
<line x1="847.59" y1="926.4" x2="847.59" y2="933.6"/>
<line x1="870.4" y1="926.4" x2="870.4" y2="933.6"/>
<line x1="893.21" y1="926.4" x2="893.21" y2="933.6"/>
<line x1="916.02" y1="926.4" x2="916.02" y2="933.6"/>
<line x1="129.1" y1="756.6" x2="136.5" y2="756.6"/>
<line x1="129.1" y1="841.4" x2="136.5" y2="841.4"/>
<line x1="129.1" y1="926.2" x2="136.5" y2="926.2"/>
</g>
<g font-size="33.33" text-anchor="end">
<text x="121.9" y="768.5">1.0</text>
<text x="121.9" y="853.3">0.5</text>
<text x="121.9" y="938.1">0.0</text>
</g>
<g font-size="29.17" text-anchor="end">
<text transform="translate(193.5 940.8) rotate(-90)" fill="#000000">M71</text>
<text transform="translate(216.31 940.8) rotate(-90)" fill="#000000">M76</text>
<text transform="translate(239.12 940.8) rotate(-90)" fill="#000000">I79</text>
<text transform="translate(261.93 940.8) rotate(-90)" fill="#000000">I80</text>
<text transform="translate(284.74 940.8) rotate(-90)" fill="#000000">M83</text>
<text transform="translate(307.55 940.8) rotate(-90)" fill="#000000">M87</text>
<text transform="translate(330.36 940.8) rotate(-90)" fill="#000000">I91</text>
<text transform="translate(353.17 940.8) rotate(-90)" fill="#000000">M109</text>
<text transform="translate(375.98 940.8) rotate(-90)" fill="#000000">M114</text>
<text transform="translate(398.79 940.8) rotate(-90)" fill="#000000">I132</text>
<text transform="translate(421.6 940.8) rotate(-90)" fill="#000000">M136</text>
<text transform="translate(444.41 940.8) rotate(-90)" fill="#000000">I137</text>
<text transform="translate(467.22 940.8) rotate(-90)" fill="#000000">I138</text>
<text transform="translate(490.03 940.8) rotate(-90)" fill="#000000">I150</text>
<text transform="translate(512.84 940.8) rotate(-90)" fill="#000000">I152</text>
<text transform="translate(535.65 940.8) rotate(-90)" fill="#008000">I179</text>
<text transform="translate(558.46 940.8) rotate(-90)" fill="#008000">I181</text>
<text transform="translate(581.27 940.8) rotate(-90)" fill="#008000">M231</text>
<text transform="translate(604.08 940.8) rotate(-90)" fill="#008000">I236</text>
<text transform="translate(626.89 940.8) rotate(-90)" fill="#008000">I242</text>
<text transform="translate(649.7 940.8) rotate(-90)" fill="#008000">I255</text>
<text transform="translate(672.51 940.8) rotate(-90)" fill="#008000">I267</text>
<text transform="translate(695.32 940.8) rotate(-90)" fill="#c9b020">I290</text>
<text transform="translate(718.13 940.8) rotate(-90)" fill="#c9b020">I297</text>
<text transform="translate(740.94 940.8) rotate(-90)" fill="#c9b020">M298</text>
<text transform="translate(763.75 940.8) rotate(-90)" fill="#c9b020">I310</text>
<text transform="translate(786.56 940.8) rotate(-90)" fill="#c9b020">I314</text>
<text transform="translate(809.37 940.8) rotate(-90)" fill="#c9b020">I348</text>
<text transform="translate(832.18 940.8) rotate(-90)" fill="#c9b020">M365</text>
<text transform="translate(854.99 940.8) rotate(-90)" fill="#c9b020">I378</text>
<text transform="translate(877.8 940.8) rotate(-90)" fill="#d3702a">M402</text>
<text transform="translate(900.61 940.8) rotate(-90)" fill="#d3702a">M414</text>
<text transform="translate(923.42 940.8) rotate(-90)" fill="#d3702a">I425</text>
</g>
<text transform="translate(58 816) rotate(-90)" font-size="37.5" text-anchor="middle">Intensity ratio</text>
<text x="556.65" y="1060.8" font-size="37.5" text-anchor="middle">Residue</text>
<text y="626.8" font-size="37.5"><tspan x="306.75">SurA-WT &#177; QMN</tspan><tspan font-size="29.17" dx="-1" dy="-15">C-term</tspan><tspan dx="-1.2" dy="15"> int. ratios</tspan></text>
<text x="-1.1" y="598.8" font-size="54.17" font-weight="bold">c</text>
<g stroke="#000" stroke-width="1" opacity="0.8">
<rect x="1200.2" y="921.25" width="13.7" height="4.85" fill="#c8c8c8"/>
<rect x="1223.01" y="908.3" width="13.7" height="17.8" fill="#c8c8c8"/>
<rect x="1245.82" y="919.7" width="13.7" height="6.4" fill="#c8c8c8"/>
<rect x="1268.63" y="913.4" width="13.7" height="12.7" fill="#c8c8c8"/>
<rect x="1291.44" y="918.4" width="13.7" height="7.7" fill="#c8c8c8"/>
<rect x="1314.25" y="921.25" width="13.7" height="4.85" fill="#c8c8c8"/>
<rect x="1337.06" y="857.5" width="13.7" height="68.6" fill="#c8c8c8"/>
<rect x="1359.87" y="884.5" width="13.7" height="41.6" fill="#c8c8c8"/>
<rect x="1382.68" y="886.4" width="13.7" height="39.7" fill="#c8c8c8"/>
<rect x="1405.49" y="785.2" width="13.7" height="140.9" fill="#c8c8c8"/>
<rect x="1428.3" y="829.1" width="13.7" height="97" fill="#c8c8c8"/>
<rect x="1451.11" y="908.3" width="13.7" height="17.8" fill="#c8c8c8"/>
<rect x="1473.92" y="895.3" width="13.7" height="30.8" fill="#c8c8c8"/>
<rect x="1496.73" y="920.3" width="13.7" height="5.8" fill="#c8c8c8"/>
<rect x="1519.54" y="923.4" width="13.7" height="2.7" fill="#c8c8c8"/>
<rect x="1542.35" y="924.6" width="13.7" height="1.5" fill="#9be69b"/>
<rect x="1565.16" y="921.6" width="13.7" height="4.5" fill="#9be69b"/>
<rect x="1587.97" y="913.6" width="13.7" height="12.5" fill="#9be69b"/>
<rect x="1610.78" y="921.5" width="13.7" height="4.6" fill="#9be69b"/>
<rect x="1633.59" y="920.5" width="13.7" height="5.6" fill="#9be69b"/>
<rect x="1656.4" y="908.8" width="13.7" height="17.3" fill="#9be69b"/>
<rect x="1679.21" y="922.7" width="13.7" height="3.4" fill="#9be69b"/>
<rect x="1702.02" y="922.7" width="13.7" height="3.4" fill="#f2f29b"/>
<rect x="1724.83" y="923.5" width="13.7" height="2.6" fill="#f2f29b"/>
<rect x="1747.64" y="923.8" width="13.7" height="2.3" fill="#f2f29b"/>
<rect x="1770.45" y="923.8" width="13.7" height="2.3" fill="#f2f29b"/>
<rect x="1793.26" y="923.5" width="13.7" height="2.6" fill="#f2f29b"/>
<rect x="1816.07" y="922.7" width="13.7" height="3.4" fill="#f2f29b"/>
<rect x="1861.69" y="921.5" width="13.7" height="4.6" fill="#f2f29b"/>
<rect x="1884.5" y="923.5" width="13.7" height="2.6" fill="#f0c8a5"/>
<rect x="1907.31" y="917.4" width="13.7" height="8.7" fill="#f0c8a5"/>
<rect x="1930.12" y="902.6" width="13.7" height="23.5" fill="#f0c8a5"/>
</g>
<g fill="#ff0000" fill-opacity="0.06">
<rect x="1332.5" y="705.8" width="114.05" height="220.4"/>
<rect x="1583.41" y="705.8" width="22.81" height="220.4"/>
</g>
<g stroke="#ff0000" stroke-opacity="0.07" stroke-width="1.6">
<line x1="1332.5" y1="705.8" x2="1332.5" y2="926.2"/>
<line x1="1446.55" y1="705.8" x2="1446.55" y2="926.2"/>
<line x1="1583.41" y1="705.8" x2="1583.41" y2="926.2"/>
<line x1="1606.22" y1="705.8" x2="1606.22" y2="926.2"/>
</g>
<g stroke="#6666ff" stroke-width="5.4">
<line x1="1195.64" y1="716.6" x2="1332.5" y2="716.6"/>
<line x1="1446.55" y1="716.6" x2="1537.8" y2="716.6"/>
<line x1="1879.94" y1="716.6" x2="1948.38" y2="716.6"/>
</g>
<g stroke="#000" stroke-width="2">
<rect x="1195.64" y="683.7" width="342.15" height="22.1" fill="#ffffff"/>
<rect x="1537.8" y="683.7" width="159.67" height="22.1" fill="#d6f3d6"/>
<rect x="1697.46" y="683.7" width="182.48" height="22.1" fill="#fafad8"/>
<rect x="1879.94" y="683.7" width="79.83" height="22.1" fill="#f8e8d8"/>
</g>
<g font-size="22.9" text-anchor="middle">
<text x="1366.72" y="701.8">N</text>
<text x="1617.63" y="701.8">P1</text>
<text x="1788.7" y="701.8">P2</text>
<text x="1919.86" y="701.8">C</text>
</g>
<g font-size="31.25">
<text x="1237.35" y="674.8" fill="#0000ff">Conf.</text>
<text x="1328.55" y="674.8" fill="#b8383d">Core site</text>
<text x="1463.35" y="674.8" fill="#0000ff">Conf.</text>
<text x="1555.75" y="674.8" fill="#b8383d">P1 site</text>
<text x="1880.05" y="674.8" fill="#0000ff">Conf.</text>
</g>
<rect x="1157.45" y="705.8" width="840.9" height="220.4" fill="none" stroke="#000" stroke-width="3.1"/>
<g stroke="#000" stroke-width="3.1">
<line x1="1207.05" y1="926.2" x2="1207.05" y2="933.4"/>
<line x1="1229.86" y1="926.2" x2="1229.86" y2="933.4"/>
<line x1="1252.67" y1="926.2" x2="1252.67" y2="933.4"/>
<line x1="1275.48" y1="926.2" x2="1275.48" y2="933.4"/>
<line x1="1298.29" y1="926.2" x2="1298.29" y2="933.4"/>
<line x1="1321.1" y1="926.2" x2="1321.1" y2="933.4"/>
<line x1="1343.91" y1="926.2" x2="1343.91" y2="933.4"/>
<line x1="1366.72" y1="926.2" x2="1366.72" y2="933.4"/>
<line x1="1389.53" y1="926.2" x2="1389.53" y2="933.4"/>
<line x1="1412.34" y1="926.2" x2="1412.34" y2="933.4"/>
<line x1="1435.15" y1="926.2" x2="1435.15" y2="933.4"/>
<line x1="1457.96" y1="926.2" x2="1457.96" y2="933.4"/>
<line x1="1480.77" y1="926.2" x2="1480.77" y2="933.4"/>
<line x1="1503.58" y1="926.2" x2="1503.58" y2="933.4"/>
<line x1="1526.39" y1="926.2" x2="1526.39" y2="933.4"/>
<line x1="1549.2" y1="926.2" x2="1549.2" y2="933.4"/>
<line x1="1572.01" y1="926.2" x2="1572.01" y2="933.4"/>
<line x1="1594.82" y1="926.2" x2="1594.82" y2="933.4"/>
<line x1="1617.63" y1="926.2" x2="1617.63" y2="933.4"/>
<line x1="1640.44" y1="926.2" x2="1640.44" y2="933.4"/>
<line x1="1663.25" y1="926.2" x2="1663.25" y2="933.4"/>
<line x1="1686.06" y1="926.2" x2="1686.06" y2="933.4"/>
<line x1="1708.87" y1="926.2" x2="1708.87" y2="933.4"/>
<line x1="1731.68" y1="926.2" x2="1731.68" y2="933.4"/>
<line x1="1754.49" y1="926.2" x2="1754.49" y2="933.4"/>
<line x1="1777.3" y1="926.2" x2="1777.3" y2="933.4"/>
<line x1="1800.11" y1="926.2" x2="1800.11" y2="933.4"/>
<line x1="1822.92" y1="926.2" x2="1822.92" y2="933.4"/>
<line x1="1845.73" y1="926.2" x2="1845.73" y2="933.4"/>
<line x1="1868.54" y1="926.2" x2="1868.54" y2="933.4"/>
<line x1="1891.35" y1="926.2" x2="1891.35" y2="933.4"/>
<line x1="1914.16" y1="926.2" x2="1914.16" y2="933.4"/>
<line x1="1936.97" y1="926.2" x2="1936.97" y2="933.4"/>
<line x1="1150.05" y1="810.05" x2="1157.45" y2="810.05"/>
<line x1="1150.05" y1="926.1" x2="1157.45" y2="926.1"/>
</g>
<g font-size="33.33" text-anchor="end">
<text x="1142.85" y="821.95">0.05</text>
<text x="1142.85" y="938">0.00</text>
</g>
<g font-size="29.17" text-anchor="end">
<text transform="translate(1213.45 940.6) rotate(-90)" fill="#000000">M71</text>
<text transform="translate(1236.26 940.6) rotate(-90)" fill="#000000">M76</text>
<text transform="translate(1259.07 940.6) rotate(-90)" fill="#000000">I79</text>
<text transform="translate(1281.88 940.6) rotate(-90)" fill="#000000">I80</text>
<text transform="translate(1304.69 940.6) rotate(-90)" fill="#000000">M83</text>
<text transform="translate(1327.5 940.6) rotate(-90)" fill="#000000">M87</text>
<text transform="translate(1350.31 940.6) rotate(-90)" fill="#000000">I91</text>
<text transform="translate(1373.12 940.6) rotate(-90)" fill="#000000">M109</text>
<text transform="translate(1395.93 940.6) rotate(-90)" fill="#000000">M114</text>
<text transform="translate(1418.74 940.6) rotate(-90)" fill="#000000">I132</text>
<text transform="translate(1441.55 940.6) rotate(-90)" fill="#000000">M136</text>
<text transform="translate(1464.36 940.6) rotate(-90)" fill="#000000">I137</text>
<text transform="translate(1487.17 940.6) rotate(-90)" fill="#000000">I138</text>
<text transform="translate(1509.98 940.6) rotate(-90)" fill="#000000">I150</text>
<text transform="translate(1532.79 940.6) rotate(-90)" fill="#000000">I152</text>
<text transform="translate(1555.6 940.6) rotate(-90)" fill="#008000">I179</text>
<text transform="translate(1578.41 940.6) rotate(-90)" fill="#008000">I181</text>
<text transform="translate(1601.22 940.6) rotate(-90)" fill="#008000">M231</text>
<text transform="translate(1624.03 940.6) rotate(-90)" fill="#008000">I236</text>
<text transform="translate(1646.84 940.6) rotate(-90)" fill="#008000">I242</text>
<text transform="translate(1669.65 940.6) rotate(-90)" fill="#008000">I255</text>
<text transform="translate(1692.46 940.6) rotate(-90)" fill="#008000">I267</text>
<text transform="translate(1715.27 940.6) rotate(-90)" fill="#c9b020">I290</text>
<text transform="translate(1738.08 940.6) rotate(-90)" fill="#c9b020">I297</text>
<text transform="translate(1760.89 940.6) rotate(-90)" fill="#c9b020">M298</text>
<text transform="translate(1783.7 940.6) rotate(-90)" fill="#c9b020">I310</text>
<text transform="translate(1806.51 940.6) rotate(-90)" fill="#c9b020">I314</text>
<text transform="translate(1829.32 940.6) rotate(-90)" fill="#c9b020">I348</text>
<text transform="translate(1852.13 940.6) rotate(-90)" fill="#c9b020">M365</text>
<text transform="translate(1874.94 940.6) rotate(-90)" fill="#c9b020">I378</text>
<text transform="translate(1897.75 940.6) rotate(-90)" fill="#d3702a">M402</text>
<text transform="translate(1920.56 940.6) rotate(-90)" fill="#d3702a">M414</text>
<text transform="translate(1943.37 940.6) rotate(-90)" fill="#d3702a">I425</text>
</g>
<text transform="translate(1058.3 920.6) rotate(-90)" font-size="37.5"><tspan font-size="35">&#916;</tspan><tspan font-family="DejaVu Sans" font-style="oblique" font-size="36" dx="0">&#948;</tspan><tspan dx="0">HC (ppm)</tspan></text>
<text x="1577.6" y="1050.9" font-size="37.5" text-anchor="middle">Residue</text>
<text y="626.8" font-size="37.5"><tspan x="1352.7">SurA-WT &#177; QMN</tspan><tspan font-size="29.17" dx="-1.6" dy="-15">C-term</tspan><tspan dx="-1.7" dy="15"> CSPs</tspan></text>
<text x="1018" y="604.75" font-size="54.17" font-weight="bold">d</text>
</svg></body></html>
